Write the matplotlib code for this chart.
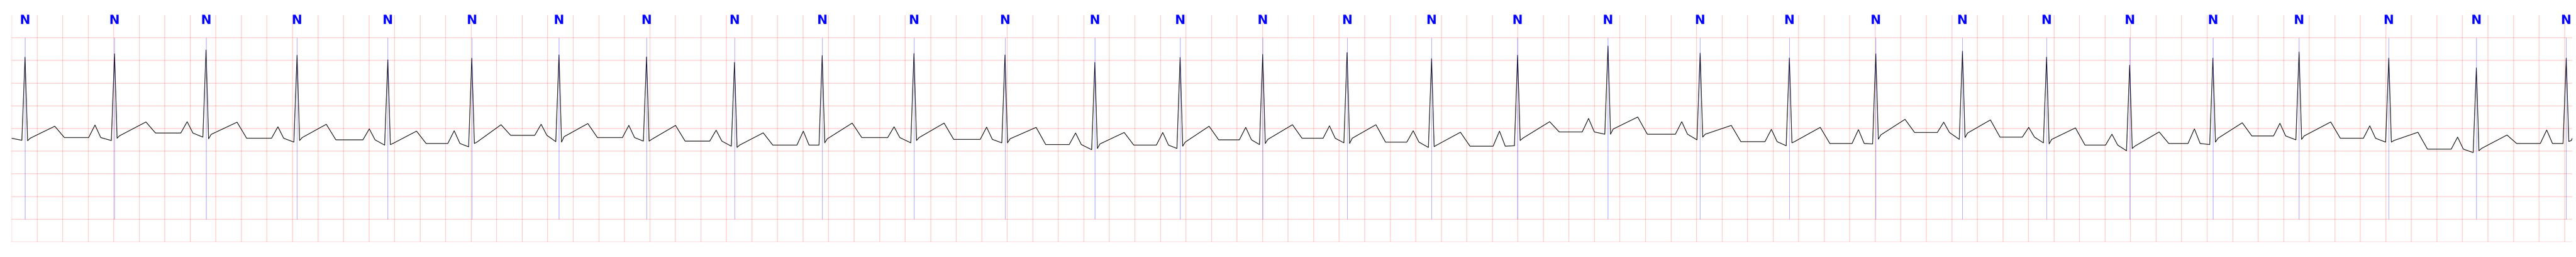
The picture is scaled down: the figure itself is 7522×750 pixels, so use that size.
import numpy as np
import matplotlib
matplotlib.use('Agg')
import matplotlib.pyplot as plt

# EKG-remsa, 20 s. Alla värden (tid i s, amplitud i mV)

# R-toppar
r_times = [0.105, 0.806, 1.523, 2.236, 2.947, 3.605, 4.288, 4.974, 5.663, 6.350,
           7.069, 7.782, 8.486, 9.154, 9.801, 10.462, 11.124, 11.798, 12.506, 13.228,
           13.927, 14.604, 15.283, 15.942, 16.593, 17.245, 17.920, 18.623, 19.309, 20.013]
r_amp = [1.573, 1.649, 1.730, 1.616, 1.515, 1.548, 1.624, 1.578, 1.457, 1.609,
         1.654, 1.620, 1.457, 1.566, 1.636, 1.674, 1.540, 1.616, 1.818, 1.662,
         1.553, 1.649, 1.705, 1.573, 1.396, 1.553, 1.687, 1.553, 1.338, 1.553]
# S-dal och J-punkt efter varje R
s_amp = [-0.270, -0.215, -0.227, -0.265, -0.354, -0.330, -0.300, -0.278, -0.417, -0.316,
         -0.265, -0.316, -0.440, -0.390, -0.330, -0.330, -0.400, -0.265, -0.126, -0.190,
         -0.316, -0.235, -0.200, -0.340, -0.440, -0.300, -0.240, -0.300, -0.490, -0.285]
j_amp = [-0.215, -0.160, -0.130, -0.200, -0.330, -0.300, -0.180, -0.240, -0.366, -0.227,
         -0.200, -0.227, -0.340, -0.300, -0.240, -0.215, -0.366, -0.215, -0.013, -0.126,
         -0.290, -0.140, -0.100, -0.240, -0.390, -0.215, -0.164, -0.265, -0.440, -0.265]
# nivå precis före QRS (PR-segment)
pr_amp = [-0.260, -0.265, -0.190, -0.300, -0.366, -0.404, -0.290, -0.278, -0.390, -0.366,
          -0.316, -0.316, -0.467, -0.440, -0.354, -0.316, -0.417, -0.380, -0.126, -0.250,
          -0.380, -0.340, -0.240, -0.316, -0.490, -0.354, -0.250, -0.300, -0.530, -0.330]

# T-vågor (slag 1-29) och baslinjen efter dem
t_times = [0.338, 1.052, 1.766, 2.465, 3.172, 3.834, 4.514, 5.201, 5.888, 6.585,
           7.305, 8.026, 8.716, 9.381, 10.034, 10.688, 11.350, 12.049, 12.739, 13.472,
           14.169, 14.833, 15.502, 16.168, 16.824, 17.475, 18.168, 18.851, 19.549]
t_amp = [0.050, 0.144, 0.139, 0.093, -0.058, 0.083, 0.109, 0.068, -0.096, 0.119,
         0.119, 0.025, -0.088, 0.050, 0.083, 0.083, -0.083, 0.150, 0.253, 0.068,
         0.025, 0.202, 0.189, 0.013, -0.076, 0.126, 0.144, -0.083, -0.144]
iso_amp = [-0.200, -0.100, -0.215, -0.250, -0.330, -0.150, -0.200, -0.278, -0.366, -0.200,
           -0.240, -0.354, -0.366, -0.250, -0.215, -0.300, -0.390, -0.076, -0.126, -0.290,
           -0.330, -0.088, -0.190, -0.366, -0.330, -0.164, -0.215, -0.455, -0.330]

# P-vågor före slag 2-30
p_times = [0.653, 1.375, 2.086, 2.802, 3.467, 4.148, 4.835, 5.519, 6.202, 6.913,
           7.638, 8.335, 9.018, 9.668, 10.324, 10.980, 11.656, 12.354, 13.084, 13.786,
           14.468, 15.136, 15.802, 16.454, 17.100, 17.770, 18.474, 19.162, 19.860]
p_amp = [0.076, 0.150, 0.038, -0.008, -0.050, 0.093, 0.068, -0.038, -0.058, 0.038,
         0.030, -0.100, -0.088, 0.025, 0.058, -0.050, -0.058, 0.220, 0.150, -0.018,
         -0.025, 0.139, 0.025, -0.126, -0.008, 0.114, 0.058, -0.190, -0.033]

start_amp = -0.215
end_amp = -0.215
t_end = 20.06

# annoteringar (beat-typ) vid varje R
ann_times = r_times
ann_labels = ['N'] * len(r_times)


def build_trace():
    # sätter ihop kurvan av de avlästa punkterna, slag för slag
    tt, vv = [0.0], [start_amp]
    for i, r in enumerate(r_times):
        if i > 0:
            tp = p_times[i - 1]
            tt += [tp - 0.05, tp, tp + 0.045]
            vv += [iso_amp[i - 1], p_amp[i - 1], iso_amp[i - 1]]
        tt += [r - 0.025, r, r + 0.02, r + 0.04]
        vv += [pr_amp[i], r_amp[i], s_amp[i], j_amp[i]]
        if i < len(t_times):
            tt += [t_times[i], t_times[i] + 0.075]
            vv += [t_amp[i], iso_amp[i]]
    tt.append(t_end)
    vv.append(end_amp)
    return np.array(tt), np.array(vv)


t, v = build_trace()

fig = plt.figure(figsize=(75.22, 7.5), dpi=100)
ax = fig.add_axes([34 / 7522, 44 / 750, (7511 - 34) / 7522, (706 - 44) / 750])

ax.plot(t, v, color='black', lw=1.3)

# blå markeringar + etiketter
ax.vlines(ann_times, -2.0, 2.0, color='blue', lw=0.8, alpha=0.5)
for x, lab in zip(ann_times, ann_labels):
    ax.text(x, 2.3, lab, color='blue', fontsize=26.5, fontweight='bold',
            ha='center', va='baseline')

# EKG-papper
ax.set_xlim(0, t_end)
ax.set_ylim(-2.5, 2.5)
ax.set_xticks(np.arange(0, t_end, 0.2))
ax.set_yticks(np.arange(-2.5, 2.5, 0.5))
ax.grid(True, color='red', alpha=0.25, lw=1.2)
ax.tick_params(length=0, labelbottom=False, labelleft=False)
for s in ax.spines.values():
    s.set_visible(False)

fig.savefig('out.png', dpi=100)
